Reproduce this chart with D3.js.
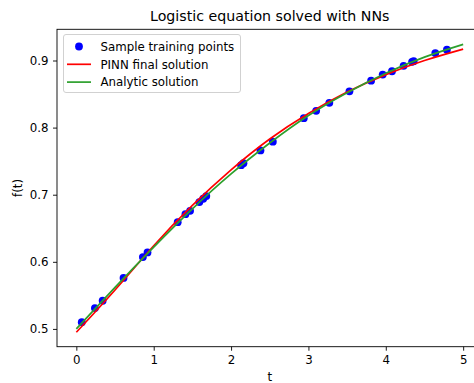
<!DOCTYPE html>
<html>
<head>
<meta charset="utf-8">
<script src="https://cdn.jsdelivr.net/npm/d3@7"></script>
<style>
  body { margin: 0; background: white; }
  svg { display: block; font-family: "DejaVu Sans", sans-serif; }
</style>
</head>
<body>
<div id="chart"></div>
<script>
// sample training points
const sampleT = [0.07, 0.24, 0.34, 0.61, 0.86, 0.92, 1.31, 1.41, 1.47, 1.59, 1.64, 1.68,
  2.13, 2.16, 2.38, 2.54, 2.94, 3.10, 3.27, 3.53, 3.81, 3.96, 4.08, 4.23, 4.34, 4.36, 4.64, 4.79];
const sampleF = [0.510, 0.531, 0.542, 0.576, 0.607, 0.614, 0.659, 0.671, 0.676, 0.689, 0.694, 0.698,
  0.744, 0.747, 0.766, 0.779, 0.814, 0.825, 0.837, 0.854, 0.870, 0.879, 0.884, 0.892, 0.898, 0.899, 0.911, 0.916];

// curves
const curveT = [0, 0.5, 1, 1.5, 2, 2.5, 3, 3.5, 4, 4.5, 5];
const pinnF = [0.495, 0.558, 0.624, 0.684, 0.737, 0.783, 0.821, 0.853, 0.879, 0.900, 0.917];
const analyticF = [0.500, 0.562, 0.622, 0.679, 0.731, 0.777, 0.818, 0.852, 0.881, 0.905, 0.924];

const xTicks = [0, 1, 2, 3, 4, 5];
const yTicks = [0.5, 0.6, 0.7, 0.8, 0.9];

const W = 474, H = 383;
const plot = { left: 57, right: 482.5, top: 29.3, bottom: 346.7 };
const fs = "11.8px";

const svg = d3.select("#chart").append("svg")
  .attr("width", W)
  .attr("height", H);

const x = d3.scaleLinear().domain([-0.25, 5.25]).range([plot.left, plot.right]);
const y = d3.scaleLinear().domain([0.4735, 0.9465]).range([plot.bottom, plot.top]);

// title
svg.append("text")
  .attr("x", (plot.left + plot.right) / 2)
  .attr("y", 21)
  .attr("text-anchor", "middle")
  .style("font-size", "14.2px")
  .style("fill", "#000")
  .text("Logistic equation solved with NNs");

// x axis
const gx = svg.append("g")
  .attr("transform", `translate(0,${plot.bottom})`)
  .call(d3.axisBottom(x).tickValues(xTicks).tickFormat(d3.format("d")).tickSize(4).tickSizeOuter(0).tickPadding(4.5));
gx.select(".domain").remove();
gx.selectAll("text").style("font-size", fs).style("font-family", "DejaVu Sans, sans-serif").attr("fill", "#000");
gx.selectAll("line").attr("stroke", "#000").attr("stroke-width", 0.9);

// y axis
const gy = svg.append("g")
  .attr("transform", `translate(${plot.left},0)`)
  .call(d3.axisLeft(y).tickValues(yTicks).tickFormat(d3.format(".1f")).tickSize(4).tickSizeOuter(0).tickPadding(4.5));
gy.select(".domain").remove();
gy.selectAll("text").style("font-size", fs).style("font-family", "DejaVu Sans, sans-serif").attr("fill", "#000");
gy.selectAll("line").attr("stroke", "#000").attr("stroke-width", 0.9);

// axis labels
svg.append("text")
  .attr("x", (plot.left + plot.right) / 2)
  .attr("y", 381)
  .attr("text-anchor", "middle")
  .style("font-size", fs)
  .text("t");

svg.append("text")
  .attr("transform", `translate(22,${(plot.top + plot.bottom) / 2}) rotate(-90)`)
  .attr("text-anchor", "middle")
  .style("font-size", fs)
  .text("f(t)");

// points first, lines on top (matplotlib zorder)
const samples = sampleT.map((t, i) => ({ t: t, f: sampleF[i] }));
svg.append("g").selectAll("circle")
  .data(samples)
  .enter()
  .append("circle")
  .attr("cx", d => x(d.t))
  .attr("cy", d => y(d.f))
  .attr("r", 3.9)
  .attr("fill", "#0000ff");

const line = d3.line()
  .x(d => x(d.t))
  .y(d => y(d.f))
  .curve(d3.curveNatural);

svg.append("path")
  .datum(curveT.map((t, i) => ({ t: t, f: pinnF[i] })))
  .attr("d", line)
  .attr("fill", "none")
  .attr("stroke", "#ff0000")
  .attr("stroke-width", 1.7);

svg.append("path")
  .datum(curveT.map((t, i) => ({ t: t, f: analyticF[i] })))
  .attr("d", line)
  .attr("fill", "none")
  .attr("stroke", "#2ca02c")
  .attr("stroke-width", 1.7);

// frame
svg.append("rect")
  .attr("x", plot.left)
  .attr("y", plot.top)
  .attr("width", plot.right - plot.left)
  .attr("height", plot.bottom - plot.top)
  .attr("fill", "none")
  .attr("stroke", "#000")
  .attr("stroke-width", 0.9);

// legend
const legend = svg.append("g");
legend.append("rect")
  .attr("x", 63.5)
  .attr("y", 34.5)
  .attr("width", 177)
  .attr("height", 58)
  .attr("rx", 2.5)
  .attr("fill", "white")
  .attr("fill-opacity", 0.8)
  .attr("stroke", "#cccccc")
  .attr("stroke-width", 0.9);

const legendItems = [
  { label: "Sample training points", type: "dot", color: "#0000ff" },
  { label: "PINN final solution", type: "line", color: "#ff0000" },
  { label: "Analytic solution", type: "line", color: "#2ca02c" }
];

legendItems.forEach((d, i) => {
  const cy = 46.5 + i * 17.8;
  if (d.type === "dot") {
    legend.append("circle").attr("cx", 79).attr("cy", cy).attr("r", 3.9).attr("fill", d.color);
  } else {
    legend.append("line").attr("x1", 67).attr("x2", 91).attr("y1", cy).attr("y2", cy)
      .attr("stroke", d.color).attr("stroke-width", 1.7);
  }
  legend.append("text")
    .attr("x", 100.5)
    .attr("y", cy + 4.2)
    .style("font-size", fs)
    .text(d.label);
});
</script>
</body>
</html>
